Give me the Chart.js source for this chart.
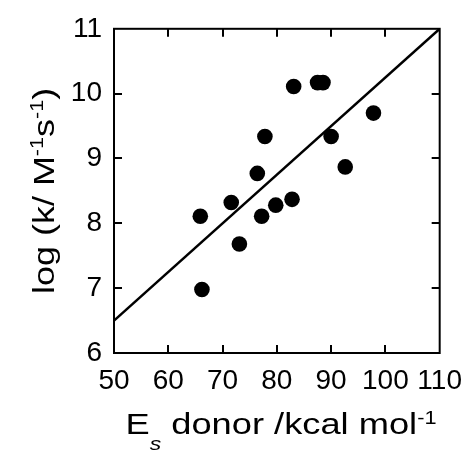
<!DOCTYPE html>
<html>
<head>
    <title>log k vs Es donor</title>
    <script src="https://cdn.jsdelivr.net/npm/chart.js"></script>
    <style>
        body { margin: 0; background: #fff; }
    </style>
</head>
<body>
    <canvas id="scatterChart" width="473" height="455"></canvas>
    <script>
        // values
        const donorEnergy = [65.9, 66.2, 71.6, 73.1, 76.4, 77.2, 77.8, 79.8, 82.8, 83.1, 87.5, 88.5, 90.0, 92.6, 97.8];
        const logK = [8.11, 6.98, 8.32, 7.68, 8.77, 8.11, 9.34, 8.28, 8.37, 10.11, 10.17, 10.17, 9.34, 8.87, 9.70];
        const fitX = [50, 110];
        const fitY = [6.5, 11];
        const xTicks = [50, 60, 70, 80, 90, 100, 110];
        const yTicks = [6, 7, 8, 9, 10, 11];

        const FONT = '"Liberation Sans", Arial, Helvetica, sans-serif';

        function drawRich(ctx, parts, x, y, angle, targetWidth) {
            ctx.save();
            ctx.translate(x, y);
            ctx.rotate(angle);
            let total = 0;
            parts.forEach(p => {
                ctx.font = p.font;
                p.w = ctx.measureText(p.text).width;
                total += p.w;
            });
            ctx.scale(targetWidth / total, 1);
            ctx.fillStyle = '#000';
            ctx.textBaseline = 'alphabetic';
            ctx.textAlign = 'left';
            let cx = -total / 2;
            parts.forEach(p => {
                ctx.font = p.font;
                ctx.fillText(p.text, cx, p.dy || 0);
                cx += p.w;
            });
            ctx.restore();
        }

        // frame, inward ticks and the axis titles
        const framePlugin = {
            id: 'frame',
            afterDraw(chart) {
                const ctx = chart.ctx;
                const a = chart.chartArea;
                const xs = chart.scales.x;
                const ys = chart.scales.y;
                ctx.save();
                ctx.strokeStyle = '#000';
                ctx.lineWidth = 2;
                ctx.strokeRect(a.left, a.top, a.right - a.left, a.bottom - a.top);
                ctx.beginPath();
                xTicks.slice(1, -1).forEach(v => {
                    const px = Math.round(xs.getPixelForValue(v));
                    ctx.moveTo(px, a.bottom); ctx.lineTo(px, a.bottom - 8);
                    ctx.moveTo(px, a.top); ctx.lineTo(px, a.top + 8);
                });
                yTicks.slice(1, -1).forEach(v => {
                    const py = Math.round(ys.getPixelForValue(v));
                    ctx.moveTo(a.left, py); ctx.lineTo(a.left + 8, py);
                    ctx.moveTo(a.right, py); ctx.lineTo(a.right - 8, py);
                });
                ctx.stroke();
                ctx.restore();

                const big = '30px ' + FONT;
                const sup = '18px ' + FONT;
                drawRich(ctx, [
                    { text: 'log (k/ M', font: big },
                    { text: '-1', font: sup, dy: -11 },
                    { text: 's', font: big },
                    { text: '-1', font: sup, dy: -11 },
                    { text: ')', font: big }
                ], 54, (a.top + a.bottom) / 2, -Math.PI / 2, 206);

                drawRich(ctx, [
                    { text: 'E', font: big },
                    { text: 's', font: 'italic 19px ' + FONT, dy: 16 },
                    { text: ' donor /kcal mol', font: big },
                    { text: '-1', font: sup, dy: -10 }
                ], 281, 434, 0, 311);
            }
        };

        const ctx = document.getElementById('scatterChart').getContext('2d');
        new Chart(ctx, {
            type: 'scatter',
            data: {
                datasets: [{
                    label: 'data',
                    data: donorEnergy.map((x, i) => ({ x: x, y: logK[i] })),
                    backgroundColor: '#000',
                    borderWidth: 0,
                    pointRadius: 7.8,
                    pointHoverRadius: 7.8
                }, {
                    label: 'fit',
                    type: 'line',
                    data: fitX.map((x, i) => ({ x: x, y: fitY[i] })),
                    borderColor: '#000',
                    borderWidth: 2.5,
                    pointRadius: 0,
                    fill: false
                }]
            },
            options: {
                responsive: false,
                animation: false,
                layout: { padding: { top: 23, right: 29, left: 0, bottom: 0 } },
                plugins: { legend: { display: false }, tooltip: { enabled: false } },
                scales: {
                    x: {
                        type: 'linear',
                        min: 50,
                        max: 110,
                        grid: { display: false, drawTicks: false },
                        border: { display: false },
                        afterBuildTicks: s => { s.ticks = xTicks.map(v => ({ value: v })); },
                        afterFit: s => { s.height = 102; },
                        ticks: {
                            color: '#000',
                            font: { family: FONT, size: 28 },
                            padding: 11,
                            maxRotation: 0
                        }
                    },
                    y: {
                        min: 6,
                        max: 11,
                        grid: { display: false, drawTicks: false },
                        border: { display: false },
                        afterBuildTicks: s => { s.ticks = yTicks.map(v => ({ value: v })); },
                        afterFit: s => { s.width = 114; },
                        ticks: {
                            color: '#000',
                            font: { family: FONT, size: 28 },
                            padding: 12
                        }
                    }
                }
            },
            plugins: [framePlugin]
        });
    </script>
</body>
</html>
